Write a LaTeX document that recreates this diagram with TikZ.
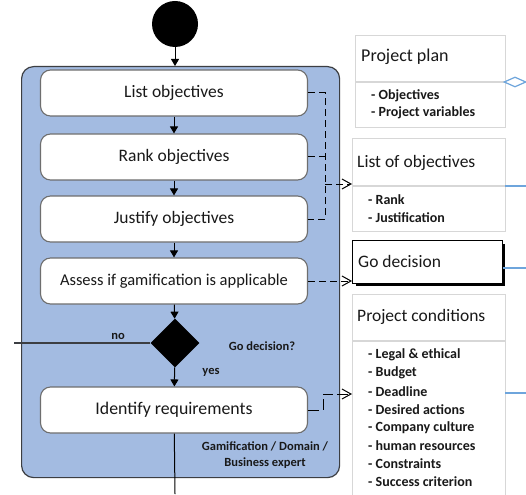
\documentclass[tikz,border=0pt]{standalone}
\usepackage{fontspec}
\setmainfont{Carlito}
\usetikzlibrary{arrows.meta,shapes.geometric}
\definecolor{lane}{RGB}{163,187,225}
\definecolor{laneborder}{RGB}{60,62,66}
\definecolor{boxborder}{RGB}{110,110,110}
\definecolor{rborder}{RGB}{215,215,215}
\definecolor{bline}{RGB}{110,165,220}
\definecolor{txt}{RGB}{25,25,25}
\begin{document}
\begin{tikzpicture}[x=1pt,y=-1pt,
  act/.style={draw=boxborder, line width=1.1pt, fill=white, rounded corners=10pt,
    minimum width=267pt, minimum height=46pt, inner sep=0pt, text=txt},
  rbox/.style={draw=rborder, line width=1.3pt, fill=white, anchor=north west, inner sep=0pt},
  rtitle/.style={anchor=west, inner sep=0pt, font=\fontsize{17.5}{20}\selectfont, text=txt},
  ritem/.style={anchor=west, inner sep=0pt, font=\bfseries\fontsize{14}{16}\selectfont, text=txt},
  lbl/.style={inner sep=0pt, font=\bfseries\fontsize{12.5}{15}\selectfont, text=txt},
  flow/.style={draw=black, line width=1pt, -{Triangle[length=7pt,width=8pt]}},
  dashline/.style={draw=black, line width=1pt, dash pattern=on 7pt off 4pt},
  openarrow/.style={-{Straight Barb[length=9pt,width=10pt,line width=1pt]}},
  blueline/.style={draw=bline, line width=1.2pt}
]
\useasboundingbox (0,0) rectangle (526,494);
\clip (0,0) rectangle (526,494);
\fill[white] (0,0) rectangle (526,494);

% swimlane
\node[draw=laneborder, line width=1.2pt, fill=lane, rounded corners=12pt, anchor=north west,
  minimum width=318pt, minimum height=411pt, inner sep=0pt] (lane) at (21,66) {};

% start
\node[circle, fill=black, minimum size=46pt, inner sep=0pt] (start) at (175,24) {};

% activities
\node[act, font=\fontsize{17.5}{20}\selectfont] (list) at (174,93) {List objectives};
\node[act, font=\fontsize{17.5}{20}\selectfont] (rank) at (174,157) {Rank objectives};
\node[act, font=\fontsize{17.5}{20}\selectfont] (just) at (174,219) {Justify objectives};
\node[act, font=\fontsize{16.5}{20}\selectfont] (assess) at (174,281) {Assess if gamification is applicable};
\node[diamond, fill=black, minimum width=49pt, minimum height=49pt, inner sep=0pt] (dec) at (175,343) {};
\node[act, font=\fontsize{17.8}{20}\selectfont] (ident) at (174,410) {Identify requirements};

% flows
\draw[flow] (start) -- (start |- lane.north);
\draw[flow] (list) -- (rank);
\draw[flow] (rank) -- (just);
\draw[flow] (just) -- (assess);
\draw[flow] (assess) -- (dec);
\draw[flow] (dec) -- (ident);
\coordinate (exit) at (175,494);
\draw[black, line width=1pt] (ident) -- (exit);
\coordinate (nofree) at (14,343);
\draw[draw=laneborder, line width=1.4pt] (dec.west) -- (nofree);

% labels
\node[lbl] (no) at (118,336) {no};
\node[lbl] (godq) at (262,346) {Go decision?};
\node[lbl] (yes) at (211,372) {yes};
\node[lbl, align=center, font=\bfseries\fontsize{12.5}{16}\selectfont] (role) at (265,455) {Gamification / Domain /\\Business expert};

% right boxes
\node[rbox, minimum width=150pt, minimum height=92pt] (pp) at (355,35) {};
\draw[rborder, line width=1.3pt] (355,82) -- (505,82);
\node[rtitle, font=\fontsize{18}{20}\selectfont] (ppt) at (361,57) {Project plan};
\node[ritem] (ppi1) at (371,96) {- Objectives};
\node[ritem] (ppi2) at (371,113) {- Project variables};

\node[rbox, minimum width=153pt, minimum height=93pt] (lo) at (352,138) {};
\draw[rborder, line width=1.3pt] (352,186) -- (505,186);
\node[rtitle] (lot) at (357,163) {List of objectives};
\node[ritem] (loi1) at (368,200) {- Rank};
\node[ritem] (loi2) at (368,218) {- Justification};

\fill[black] (356,244) rectangle (505,286);
\node[draw=black, line width=1.2pt, fill=white, anchor=north west, minimum width=150pt,
  minimum height=43pt, inner sep=0pt] (gd) at (352,240) {};
\node[rtitle] (gdt) at (358,261) {Go decision};

\node[rbox, minimum width=153pt, minimum height=230pt] (pc) at (352,294) {};
\draw[rborder, line width=1.3pt] (352,341) -- (505,341);
\node[rtitle] (pct) at (357,317) {Project conditions};
\foreach \t [count=\i from 0] in {Legal \& ethical, Budget, Deadline, Desired actions,
  Company culture, human resources, Constraints, Success criterion}
  \node[ritem] (pci\i) at (368,355+18.1*\i) {- \t};

% blue connectors
\node[diamond, draw=bline, fill=white, line width=1.2pt, minimum width=22pt, minimum height=10pt,
  inner sep=0pt, aspect=2.2] (ppd) at (515,82) {};
\coordinate (ppout) at (528,82);
\draw[blueline] (ppd.east) -- (ppout);
\coordinate (loa) at (505,186); \coordinate (lob) at (526,186);
\draw[blueline] (loa) -- (lob);
\coordinate (gda) at (503,268); \coordinate (gdb) at (526,268);
\draw[blueline] (gda) -- (gdb);
\coordinate (pca) at (505,393); \coordinate (pcb) at (526,393);
\draw[blueline] (pca) -- (pcb);

% object flows (dashed)
\coordinate (dx1) at (325,93);
\coordinate (dx2) at (325,219);
\coordinate (dxa) at (325,184);
\draw[dashline] (list.east) -- (dx1) -- (dx2) -- (just.east);
\draw[dashline] (rank.east) -- (rank.east -| dx1);
\draw[dashline, openarrow] (dxa) -- (dxa -| lo.west);
\draw[dashline, openarrow] (assess.east) -- (assess.east -| gd.west);
\coordinate (ix1) at (323,410);
\coordinate (ix2) at (323,394);
\draw[black, line width=1pt, dash pattern=on 11pt off 4pt, openarrow] (ident.east) -- (ix1) -- (ix2) -- (ix2 -| pc.west);
\end{tikzpicture}
\end{document}
